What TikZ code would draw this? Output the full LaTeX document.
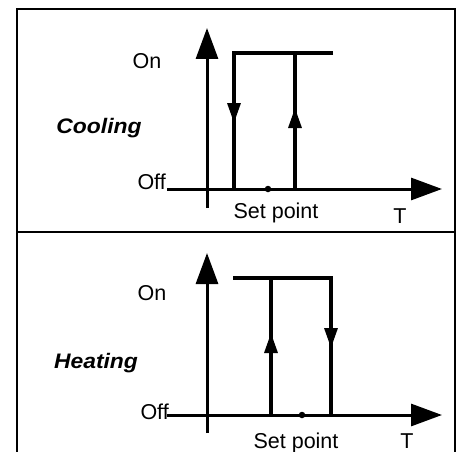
\documentclass[tikz,border=0pt]{standalone}
\usepackage{fontspec}
\setmainfont{Liberation Sans}
\usetikzlibrary{arrows.meta,decorations.markings}

\begin{document}
\begin{tikzpicture}[
  x=1pt,y=-1pt,
  every node/.style={font=\fontsize{21.5}{24}\selectfont,inner sep=0pt,anchor=base},
  frame/.style={line width=2.2pt},
  axis/.style={line width=3pt,-{Triangle[length=31pt,width=22pt]}},
  relay/.style={line width=3.2pt},
  flow/.style={postaction={decorate},
               decoration={markings,mark=at position #1 with
                 {\arrow{Triangle[length=20pt,width=13pt]}}}},
  mode/.style={font=\fontsize{21}{24}\selectfont\bfseries\itshape,xscale=1.09},
  dot/.style={circle,fill,minimum size=6.5pt,anchor=center}
]
\useasboundingbox (0,0) rectangle (463,452);

% frame
\draw[frame] (17,452) -- (17,9) -- (455,9) -- (455,452);
\draw[frame] (17,232) -- (455,232);

% cooling
\coordinate (cYb) at (207,208);
\coordinate (cYt) at (207,28);
\coordinate (cXl) at (167,189);
\coordinate (cXr) at (442,189);
\draw[axis] (cYb) -- (cYt);
\draw[axis] (cXl) -- (cXr);

\coordinate (cOnR)  at (333,53);
\coordinate (cOnL)  at (234,53);
\coordinate (cOffL) at (234,189);
\coordinate (cOnM)  at (295,53);
\coordinate (cOffM) at (295,189);
\draw[relay,flow=169pt] (cOnR) -- (cOnL) -- (cOffL);
\draw[relay,flow=81pt]  (cOffM) -- (cOnM);

\node[dot] (cSet) at (268,189) {};
\node (cOn)  at (147,69)  {On};
\node[anchor=base east] (cOff) at (166,189) {Off};
\node (cMode) at (99,133) [mode] {Cooling};
\node (cSetL) at (276,218) {Set point};
\node (cT)   at (400,223) {T};

% heating
\coordinate (hYb) at (207,433);
\coordinate (hYt) at (207,253);
\coordinate (hXl) at (167,415);
\coordinate (hXr) at (442,415);
\draw[axis] (hYb) -- (hYt);
\draw[axis] (hXl) -- (hXr);

\coordinate (hOnL)  at (233,278);
\coordinate (hOnR)  at (331,278);
\coordinate (hOffR) at (331,415);
\coordinate (hOnM)  at (271,278);
\coordinate (hOffM) at (271,415);
\draw[relay,flow=168pt] (hOnL) -- (hOnR) -- (hOffR);
\draw[relay,flow=82pt]  (hOffM) -- (hOnM);

\node[dot] (hSet) at (302,415) {};
\node (hOn)  at (152,300) {On};
\node[anchor=base east] (hOff) at (169,419) {Off};
\node (hMode) at (96,368) [mode] {Heating};
\node (hSetL) at (296,448) {Set point};
\node (hT)   at (407,448) {T};
\end{tikzpicture}
\end{document}
